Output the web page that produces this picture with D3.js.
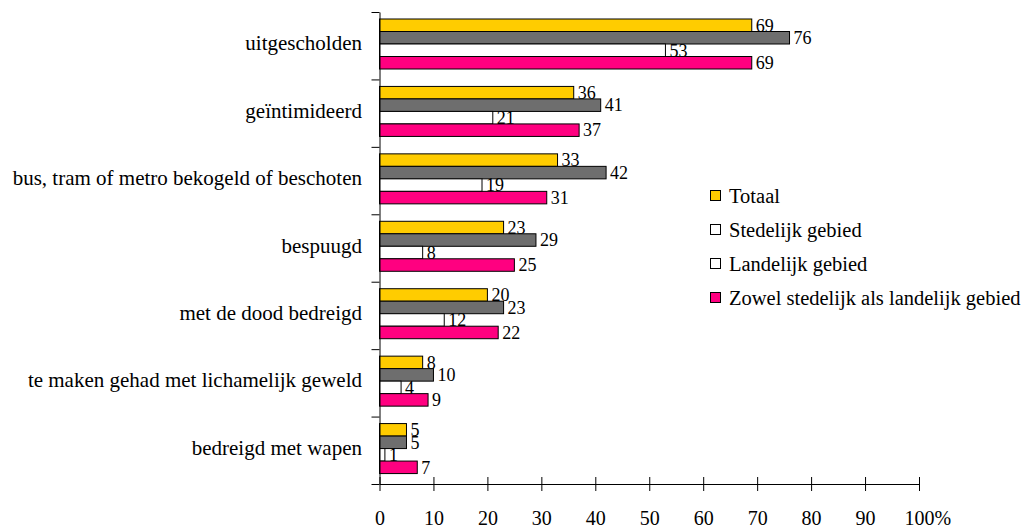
<!DOCTYPE html>
<html>
<head>
<meta charset="utf-8">
<script src="https://cdn.jsdelivr.net/npm/d3@7"></script>
<style>
  html, body { margin: 0; padding: 0; background: #fff; }
  svg text { font-family: "Liberation Serif", "Times New Roman", Tinos, "DejaVu Serif", serif; }
</style>
</head>
<body>
<div id="chart"></div>
<script>
'use strict'

const categories = [
  'uitgescholden',
  'geïntimideerd',
  'bus, tram of metro bekogeld of beschoten',
  'bespuugd',
  'met de dood bedreigd',
  'te maken gehad met lichamelijk geweld',
  'bedreigd met wapen'
]
const seriesNames = ['Totaal', 'Stedelijk gebied', 'Landelijk gebied', 'Zowel stedelijk als landelijk gebied']
const totaal = [69, 36, 33, 23, 20, 8, 5]
const stedelijk = [76, 41, 42, 29, 23, 10, 5]
const landelijk = [53, 21, 19, 8, 12, 4, 1]
const zowel = [69, 37, 31, 25, 22, 9, 7]
const xTicks = [0, 10, 20, 30, 40, 50, 60, 70, 80, 90, 100]

const colors = ['#ffcc00', '#6e6e6e', '#ffffff', '#ff0080']
const legendColors = ['#ffcc00', '#ffffff', '#ffffff', '#ff0080']
const seriesValues = [totaal, stedelijk, landelijk, zowel]

const width = 1025
const height = 530
const plot = { left: 379.5, right: 919, top: 12, bottom: 484 }
const serif = '"Liberation Serif", "Times New Roman", Tinos, "DejaVu Serif", serif'

const svg = d3.select('#chart')
  .append('svg')
  .attr('width', width)
  .attr('height', height)
  .attr('font-family', serif)

const xScale = d3.scaleLinear().domain([0, 100]).range([plot.left, plot.right])
const yBand = d3.scaleBand().domain(categories).range([plot.top, plot.bottom]).padding(0)
const yInner = d3.scaleBand().domain(seriesNames).range([7, 57]).padding(0)
const yEdge = d3.scaleLinear().domain([0, categories.length]).range([plot.top, plot.bottom])

// bars + labels, one series after the other so later bars sit on top
seriesNames.forEach((name, si) => {
  const g = svg.append('g').attr('class', 'series')
  const data = categories.map((c, i) => ({ cat: c, value: seriesValues[si][i] }))

  g.selectAll('rect')
    .data(data)
    .enter()
    .append('rect')
    .attr('x', xScale(0))
    .attr('y', (d) => yBand(d.cat) + yInner(name))
    .attr('width', (d) => xScale(d.value) - xScale(0))
    .attr('height', yInner.bandwidth())
    .attr('fill', colors[si])
    .attr('stroke', '#000')
    .attr('stroke-width', 1)

  g.selectAll('text')
    .data(data)
    .enter()
    .append('text')
    .attr('x', (d) => xScale(d.value) + 4)
    .attr('y', (d) => yBand(d.cat) + yInner(name) + yInner.bandwidth())
    .attr('font-size', 18)
    .attr('fill', '#000')
    .text((d) => d.value)
})

// y axis
const yAxis = d3.axisLeft(yEdge)
  .tickValues(d3.range(categories.length + 1))
  .tickFormat('')
  .tickSizeInner(8)
  .tickSizeOuter(0)

svg.append('g')
  .attr('transform', `translate(${plot.left}, 0)`)
  .call(yAxis)
  .call((g) => g.selectAll('line, path').attr('stroke', '#000'))

svg.append('g')
  .selectAll('text')
  .data(categories)
  .enter()
  .append('text')
  .attr('x', 362)
  .attr('y', (d) => yBand(d) + yBand.bandwidth() / 2)
  .attr('dy', '0.22em')
  .attr('text-anchor', 'end')
  .attr('font-size', 21)
  .attr('fill', '#000')
  .text((d) => d)

// x axis
const xAxis = d3.axisBottom(xScale)
  .tickValues(xTicks)
  .tickSizeInner(7)
  .tickSizeOuter(0)
  .tickFormat((d) => d)

const xAxisG = svg.append('g')
  .attr('transform', `translate(0, ${plot.bottom})`)
  .call(xAxis)
  .attr('font-family', serif)

xAxisG.selectAll('line, path').attr('stroke', '#000')
xAxisG.selectAll('.tick line').attr('y1', -7)
xAxisG.selectAll('.tick text')
  .attr('y', 41)
  .attr('dy', 0)
  .attr('font-size', 20)
  .attr('fill', '#000')

// "%" after the last label, the number stays centred on its tick
const lastTick = xAxisG.selectAll('.tick').filter((d) => d === 100)
const half = lastTick.select('text').node().getComputedTextLength() / 2
lastTick.append('text')
  .attr('x', half)
  .attr('y', 41)
  .attr('font-size', 20)
  .attr('text-anchor', 'start')
  .attr('fill', '#000')
  .text('%')

// legend
const legend = svg.append('g').attr('transform', 'translate(710, 196)')
const legendItems = legend.selectAll('g')
  .data(seriesNames)
  .enter()
  .append('g')
  .attr('transform', (d, i) => `translate(0, ${i * 34})`)

legendItems.append('rect')
  .attr('x', 0.5)
  .attr('y', -5.5)
  .attr('width', 10)
  .attr('height', 10)
  .attr('fill', (d, i) => legendColors[i])
  .attr('stroke', '#000')

legendItems.append('text')
  .attr('x', 19)
  .attr('y', 0)
  .attr('dy', '0.32em')
  .attr('font-size', 20.5)
  .attr('fill', '#000')
  .text((d) => d)
</script>
</body>
</html>
